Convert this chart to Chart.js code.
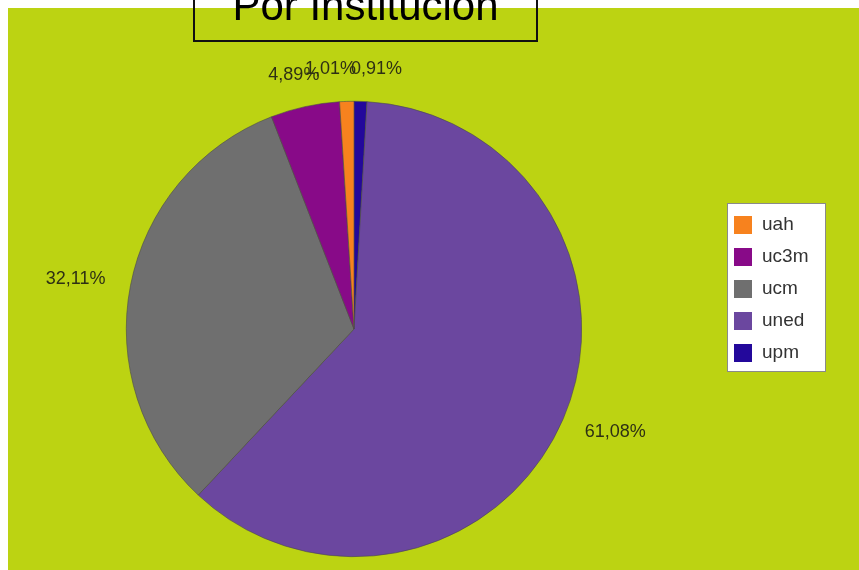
<!DOCTYPE html>
<html>
<head>
<meta charset="utf-8">
<script src="https://cdn.jsdelivr.net/npm/chart.js@4.4.1/dist/chart.umd.min.js"></script>
<style>
    html, body { overflow: hidden; }
    body { margin: 8px; background: #ffffff; }
    #wrap { position: absolute; left: 8px; top: 8px; width: 900px; height: 600px; background: #bcd312; }
    #pieChart { display: block; }
    #titulo {
        position: absolute; left: 193px; top: -20px; width: 341px; height: 58px;
        border: 2px solid #111; text-align: center;
        font: 42px "Liberation Sans", Arial, sans-serif; line-height: 47px; color: #000;
    }
</style>
</head>
<body>
<div id="wrap"><canvas id="pieChart" width="851" height="562"></canvas></div>
<div id="titulo">Por Institución</div>
<script>
// Datos (orden de la leyenda)
const instituciones = ['uah', 'uc3m', 'ucm', 'uned', 'upm'];
const porcentajes = [1.01, 4.89, 32.11, 61.08, 0.91];
const colores = ['#f7821e', '#880a88', '#6f6f6f', '#6b479f', '#23089b'];

// el gráfico original va en sentido antihorario: invertimos el orden
const labelsPie = instituciones.slice().reverse();
const dataPie = porcentajes.slice().reverse();
const coloresPie = colores.slice().reverse();

function fmt(v) {
    return v.toFixed(2).replace('.', ',') + '%';
}

// Etiquetas de porcentaje alrededor de la tarta
const etiquetas = {
    id: 'etiquetas',
    afterDatasetsDraw(chart) {
        const ctx = chart.ctx;
        const arcs = chart.getDatasetMeta(0).data;
        ctx.save();
        ctx.font = '18px "Liberation Sans", Arial, sans-serif';
        const items = arcs.map((arc, i) => {
            const mid = (arc.startAngle + arc.endAngle) / 2;
            const dx = Math.cos(mid), dy = Math.sin(mid);
            const txt = fmt(dataPie[i]);
            const w = ctx.measureText(txt).width;
            const r = arc.outerRadius + 26;
            return {
                txt: txt,
                x: arc.x + r * dx + dx * w / 2,
                y: arc.y + r * dy + dy * 6.5
            };
        });
        // separar etiquetas que se pisan
        const orden = items.slice().sort((a, b) => a.x - b.x);
        const sep = 46;
        let grupo = [orden[0]];
        const grupos = [];
        for (let i = 1; i < orden.length; i++) {
            const prev = grupo[grupo.length - 1];
            if (orden[i].x - prev.x < sep && Math.abs(orden[i].y - prev.y) < 20) {
                grupo.push(orden[i]);
            } else {
                grupos.push(grupo);
                grupo = [orden[i]];
            }
        }
        grupos.push(grupo);
        grupos.forEach(g => {
            if (g.length < 2) return;
            const media = g.reduce((s, it) => s + it.x, 0) / g.length;
            g.forEach((it, k) => { it.x = media + (k - (g.length - 1) / 2) * sep; });
        });
        ctx.fillStyle = '#2e3014';
        ctx.textAlign = 'center';
        ctx.textBaseline = 'middle';
        items.forEach(it => ctx.fillText(it.txt, it.x, it.y));
        ctx.restore();
    }
};

// Leyenda con recuadro blanco
const leyenda = {
    id: 'leyenda',
    afterDraw(chart) {
        const ctx = chart.ctx;
        const x0 = 719, y0 = 195, w = 99, h = 169;
        ctx.save();
        ctx.fillStyle = '#ffffff';
        ctx.fillRect(x0, y0, w, h);
        ctx.strokeStyle = '#8a8a8a';
        ctx.lineWidth = 1;
        ctx.strokeRect(x0 + 0.5, y0 + 0.5, w - 1, h - 1);
        ctx.font = '19px "Liberation Sans", Arial, sans-serif';
        ctx.textBaseline = 'middle';
        instituciones.forEach((nombre, i) => {
            const cy = y0 + 22 + i * 32;
            ctx.fillStyle = colores[i];
            ctx.fillRect(x0 + 7, cy - 9, 18, 18);
            ctx.fillStyle = '#333333';
            ctx.fillText(nombre, x0 + 35, cy);
        });
        ctx.restore();
    }
};

const ctxPie = document.getElementById('pieChart').getContext('2d');
new Chart(ctxPie, {
    type: 'pie',
    data: {
        labels: labelsPie,
        datasets: [{
            data: dataPie,
            backgroundColor: coloresPie,
            borderColor: '#4a4a4a',
            borderWidth: 0.6
        }]
    },
    options: {
        responsive: false,
        animation: false,
        layout: { padding: { left: 118, right: 277, top: 93, bottom: 13 } },
        plugins: {
            legend: { display: false },
            tooltip: { enabled: false }
        }
    },
    plugins: [etiquetas, leyenda]
});
</script>
</body>
</html>
